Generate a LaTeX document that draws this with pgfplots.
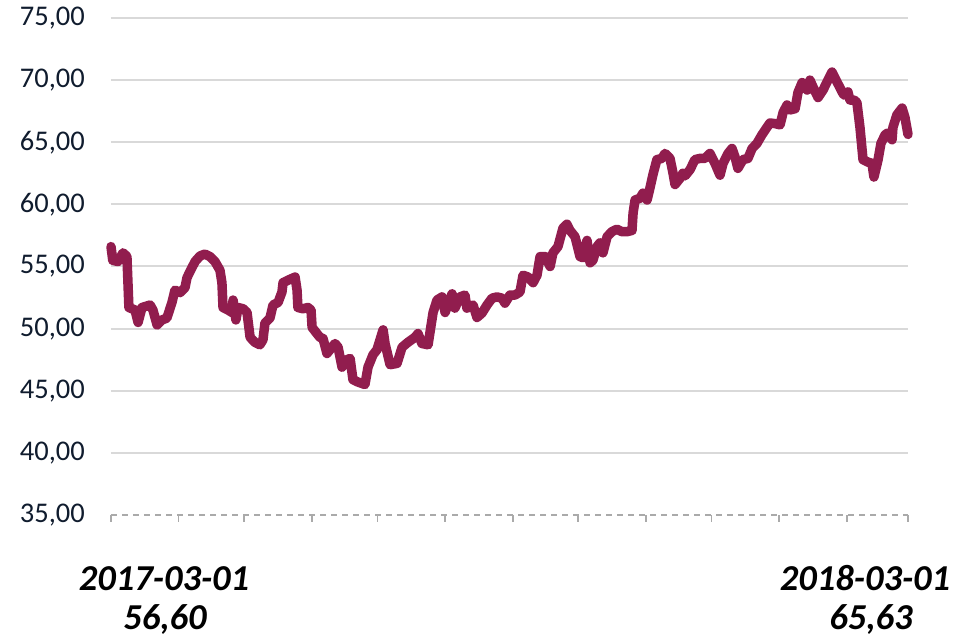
\documentclass[border=0pt]{standalone}
\usepackage{fontspec}
\setmainfont{Carlito}
\usepackage{pgfplots}
\pgfplotsset{compat=1.18}
\definecolor{linecol}{RGB}{145,29,78}
\definecolor{tickcol}{RGB}{16,28,46}
\definecolor{gridcol}{RGB}{217,217,217}
\definecolor{axcol}{RGB}{170,170,170}
\begin{document}
\begin{tikzpicture}
\path[use as bounding box] (0,0) rectangle (972pt,640pt);
\begin{axis}[
  at={(111pt,125pt)}, anchor=south west,
  scale only axis, width=797pt, height=497pt,
  xmin=0, xmax=365, ymin=35, ymax=75,
  clip=false,
  axis x line*=bottom, axis y line*=left,
  y axis line style={draw=none},
  x axis line style={draw=axcol, line width=1.6pt, dash pattern=on 6pt off 5pt, -},
  xtick={0,31,61,92,122,153,184,214,245,275,306,337,365},
  xticklabels={},
  xtick style={draw=axcol, line width=1.6pt},
  xtick align=outside, major tick length=7pt,
  ytick={40,45,...,75},
  extra y ticks={35},
  extra y tick style={grid=none, tick style={draw=none}},
  ytick style={draw=none},
  ymajorgrids, major grid style={draw=gridcol, line width=2pt},
  yticklabel style={font=\fontsize{28.5}{34}\selectfont, text=tickcol, anchor=east, inner sep=0pt, xshift=-26pt},
  /pgf/number format/fixed, /pgf/number format/fixed zerofill,
  /pgf/number format/precision=2, /pgf/number format/use comma,
  /pgf/number format/assume math mode=true,
]
\addplot[linecol, line width=9.5pt, line join=round, line cap=round] table {
x y
0 56.6
0.8 55.5
3.2 55.4
5.5 56.1
7.3 55.8
8.2 51.7
11.0 51.5
12.4 50.5
14.2 51.7
17.9 51.9
19.2 51.5
21.1 50.3
23.4 50.7
25.6 50.85
27.9 52.1
29.3 53.1
31.6 52.9
33.9 53.3
34.8 54.1
36.2 54.6
38.5 55.4
40.8 55.85
43.0 56.0
45.3 55.8
47.6 55.4
49.9 54.7
50.8 53.7
51.3 51.7
53.6 51.5
55.4 51.3
55.9 52.3
57.2 50.7
58.2 51.7
60.5 51.6
62.3 51.3
63.7 49.3
65.9 48.9
68.2 48.7
69.6 49.1
70.5 50.45
72.8 50.85
74.2 51.9
76.5 52.1
78.3 52.95
78.8 53.7
81.1 53.9
84.3 54.15
85.2 53.1
85.6 51.7
87.9 51.6
90.2 51.7
91.6 51.5
92.1 50.1
94.3 49.6
95.7 49.3
97.1 49.2
98.9 48.0
101.2 48.5
102.6 48.8
104.0 48.5
105.8 46.9
108.1 47.5
109.5 47.6
110.8 45.9
113.1 45.7
116.3 45.5
117.7 46.9
120.0 47.9
121.8 48.3
124.6 49.9
125.5 48.8
127.8 47.1
131.0 47.2
133.3 48.5
136.0 48.9
139.2 49.3
140.6 49.6
142.4 48.8
145.2 48.7
147.5 51.3
149.3 52.3
151.6 52.55
153.0 51.3
155.3 52.4
156.2 52.8
157.5 51.65
159.8 52.55
162.1 52.7
163.0 51.65
165.8 51.9
167.6 50.9
169.9 51.25
172.2 51.9
174.5 52.45
176.8 52.55
179.1 52.45
180.4 52.05
182.7 52.7
185.0 52.7
187.3 52.95
188.7 54.3
191.0 54.15
193.3 53.7
195.1 54.3
196.5 55.8
198.8 55.8
201.1 55.0
202.4 56.1
204.7 56.6
207.0 58.1
208.8 58.4
210.2 57.9
212.5 57.4
214.8 55.8
216.2 55.7
218.0 57.1
219.4 55.3
220.7 55.5
222.6 56.6
223.9 56.9
225.3 56.1
227.2 57.4
229.4 57.8
231.7 58.0
234.0 57.8
236.3 57.8
238.6 57.9
239.1 59.3
240.0 60.35
242.3 60.5
243.6 60.9
245.5 60.35
246.8 61.3
248.2 62.4
250.0 63.6
252.3 63.7
253.7 64.1
256.0 63.7
257.4 62.5
258.3 61.6
260.6 62.1
261.9 62.5
262.9 62.3
265.2 62.8
267.4 63.6
269.7 63.7
272.0 63.7
274.3 64.1
276.6 63.3
278.9 62.35
280.3 63.3
282.6 64.1
284.4 64.5
285.8 63.8
287.1 62.9
289.4 63.6
291.7 63.7
293.6 64.5
295.8 64.9
298.1 65.6
300.4 66.2
301.8 66.55
304.1 66.5
306.4 66.4
307.8 67.4
309.6 68.0
311.0 67.6
313.3 67.7
314.6 69.0
316.5 69.8
318.8 69.2
320.1 70.0
321.5 69.45
323.8 68.6
326.1 69.2
327.9 69.85
330.2 70.65
332.5 69.85
334.8 69.05
335.7 68.8
337.5 69.05
338.4 68.4
340.3 68.4
341.6 68.2
343.0 66.2
344.4 63.6
346.7 63.4
348.5 63.3
349.4 62.2
351.3 63.6
352.6 64.9
354.5 65.6
355.8 65.75
357.7 65.2
358.1 66.2
359.9 67.2
362.3 67.75
363.6 67.0
365 65.63
};
\end{axis}
\node[anchor=base, font=\fontsize{36.5}{40}\selectfont\bfseries\itshape] at (164pt,49pt) {2017-03-01};
\node[anchor=base, font=\fontsize{36.5}{40}\selectfont\bfseries\itshape] at (165pt,10pt) {56,60};
\node[anchor=base, font=\fontsize{36.5}{40}\selectfont\bfseries\itshape] at (865pt,49pt) {2018-03-01};
\node[anchor=base, font=\fontsize{36.5}{40}\selectfont\bfseries\itshape] at (871pt,10pt) {65,63};
\end{tikzpicture}
\end{document}
